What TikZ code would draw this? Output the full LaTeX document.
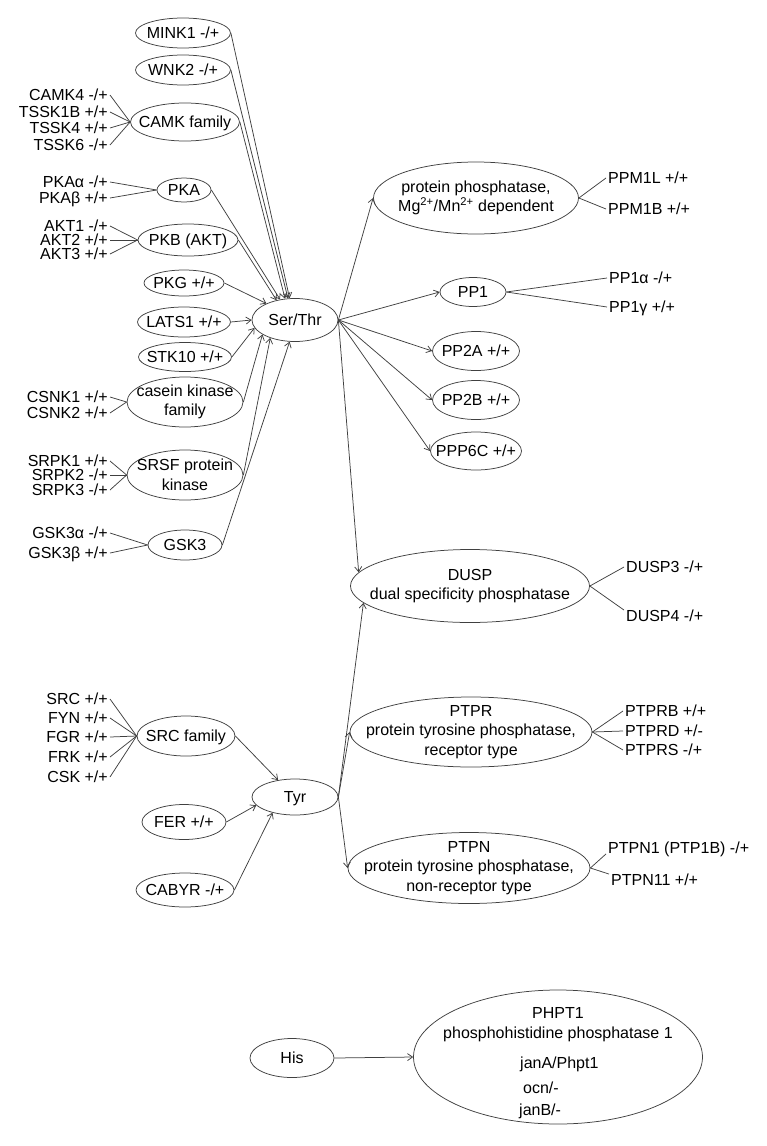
\documentclass[tikz,border=0pt]{standalone}
\usepackage{fontspec}
\setmainfont{Liberation Sans}
\usetikzlibrary{shapes.geometric,arrows.meta}
\begin{document}
\begin{tikzpicture}[x=1pt,y=-1pt,
  every node/.style={font=\fontsize{16}{19.5}\selectfont, text=black},
  ell/.style={draw=black!75, line width=0.75pt, ellipse, inner sep=-40pt, align=center},
  one/.style={text height=11.5pt, text depth=0pt},
  lbl/.style={inner ysep=0pt, inner xsep=2pt, text height=11.5pt, text depth=0pt},
  arr/.style={draw=black!75, line width=0.75pt, -{Straight Barb[length=5pt,width=7pt]}},
  ln/.style={draw=black!75, line width=0.75pt}]
\useasboundingbox (0,0) rectangle (766,1146);

% ---- kinases (Ser/Thr)
\node[ell,one,minimum width=95pt,minimum height=30pt] (mink) at (183,33) {MINK1 -/+};
\node[ell,one,minimum width=95pt,minimum height=30pt] (wnk) at (183,70) {WNK2 -/+};
\node[ell,one,minimum width=109pt,minimum height=38pt] (camk) at (185,122) {CAMK family};
\node[ell,one,minimum width=54pt,minimum height=24pt] (pka) at (184,190) {PKA};
\node[ell,one,minimum width=100pt,minimum height=32pt] (pkb) at (188,240) {PKB (AKT)};
\node[ell,one,minimum width=80pt,minimum height=26pt] (pkg) at (184,283) {PKG +/+};
\node[ell,one,minimum width=93pt,minimum height=30pt] (lats) at (184,322) {LATS1 +/+};
\node[ell,one,minimum width=93pt,minimum height=29pt] (stk) at (185,357) {STK10 +/+};
\node[ell,minimum width=116pt,minimum height=50pt] (csnk) at (185,402) {casein kinase\\family};
\node[ell,minimum width=116pt,minimum height=50pt] (srsf) at (185,475) {SRSF protein\\kinase};
\node[ell,one,minimum width=74pt,minimum height=30pt] (gsk) at (185,545) {GSK3};
\node[ell,one,minimum width=86pt,minimum height=43pt] (ser) at (295,320) {Ser/Thr};

% ---- left labels
\node[lbl,anchor=east] (camk4) at (110,95) {CAMK4 -/+};
\node[lbl,anchor=east] (tssk1b) at (110,112) {TSSK1B +/+};
\node[lbl,anchor=east] (tssk4) at (110,128) {TSSK4 +/+};
\node[lbl,anchor=east] (tssk6) at (110,145) {TSSK6 -/+};
\node[lbl,anchor=east] (pkaa) at (110,182) {PKAα -/+};
\node[lbl,anchor=east] (pkab) at (110,198) {PKAβ +/+};
\node[lbl,anchor=east] (akt1) at (110,226) {AKT1 -/+};
\node[lbl,anchor=east] (akt2) at (110,240) {AKT2 +/+};
\node[lbl,anchor=east] (akt3) at (110,254) {AKT3 +/+};
\node[lbl,anchor=east] (csnk1) at (110,397) {CSNK1 +/+};
\node[lbl,anchor=east] (csnk2) at (110,413) {CSNK2 +/+};
\node[lbl,anchor=east] (srpk1) at (110,461) {SRPK1 +/+};
\node[lbl,anchor=east] (srpk2) at (110,475) {SRPK2 -/+};
\node[lbl,anchor=east] (srpk3) at (110,490) {SRPK3 -/+};
\node[lbl,anchor=east] (gska) at (110,533) {GSK3α -/+};
\node[lbl,anchor=east] (gskb) at (110,553) {GSK3β +/+};

\foreach \s in {camk4,tssk1b,tssk4,tssk6} \draw[ln] (\s.east) -- (camk.west);
\foreach \s in {pkaa,pkab} \draw[ln] (\s.east) -- (pka.west);
\foreach \s in {akt1,akt2,akt3} \draw[ln] (\s.east) -- (pkb.west);
\foreach \s in {csnk1,csnk2} \draw[ln] (\s.east) -- (csnk.west);
\foreach \s in {srpk1,srpk2,srpk3} \draw[ln] (\s.east) -- (srsf.west);
\foreach \s in {gska,gskb} \draw[ln] (\s.east) -- (gsk.west);

% ---- arrows into Ser/Thr
\draw[arr] (mink.east) -- (ser.104);
\draw[arr] (wnk.east) -- (ser.108);
\draw[arr] (camk.east) -- (ser.115);
\draw[arr] (pka.east) -- (ser.126);
\draw[arr] (pkb.east) -- (ser.133);
\draw[arr] (pkg.east) -- (ser.150);
\draw[arr] (lats.east) -- (ser.west);
\draw[arr] (stk.east) -- (ser.191);
\draw[arr] (csnk.east) -- (ser.204);
\draw[arr] (srsf.east) -- (ser.216);
\draw[arr] (gsk.east) -- (ser.256);

% ---- Ser/Thr phosphatases
\node[ell,minimum width=205pt,minimum height=72pt] (ppm) at (476,198) {protein phosphatase,\\Mg\textsuperscript{2+}/Mn\textsuperscript{2+} dependent};
\node[ell,one,minimum width=66pt,minimum height=29pt] (pp1) at (473,292) {PP1};
\node[ell,one,minimum width=87pt,minimum height=39pt] (pp2a) at (476,351) {PP2A +/+};
\node[ell,one,minimum width=87pt,minimum height=39pt] (pp2b) at (476,400) {PP2B +/+};
\node[ell,one,minimum width=91pt,minimum height=38pt] (ppp6c) at (476,451) {PPP6C +/+};
\node[ell,minimum width=239pt,minimum height=73pt] (dusp) at (470,586) {DUSP\\dual specificity phosphatase};

\draw[arr] (ser.east) -- (ppm.west);
\draw[arr] (ser.east) -- (pp1.west);
\draw[arr] (ser.east) -- (pp2a.west);
\draw[arr] (ser.east) -- (pp2b.west);
\draw[arr] (ser.east) -- (ppp6c.west);
\draw[arr] (ser.east) -- (dusp.173);

% ---- right labels
\node[lbl,anchor=west] (ppm1l) at (606,178) {PPM1L +/+};
\node[lbl,anchor=west] (ppm1b) at (606,209) {PPM1B +/+};
\node[lbl,anchor=west] (pp1a) at (607,278) {PP1α -/+};
\node[lbl,anchor=west] (pp1g) at (607,307) {PP1γ +/+};
\node[lbl,anchor=west] (dusp3) at (624,567) {DUSP3 -/+};
\node[lbl,anchor=west] (dusp4) at (624,616) {DUSP4 -/+};
\draw[ln] (ppm.east) -- (ppm1l.west);
\draw[ln] (ppm.east) -- (ppm1b.west);
\draw[ln] (pp1.east) -- (pp1a.west);
\draw[ln] (pp1.east) -- (pp1g.west);
\draw[ln] (dusp.east) -- (dusp3.west);
\draw[ln] (dusp.east) -- (dusp4.north west);

% ---- Tyr
\node[ell,one,minimum width=98pt,minimum height=40pt] (src) at (186,736) {SRC family};
\node[ell,one,minimum width=84pt,minimum height=35pt] (fer) at (184,822) {FER +/+};
\node[ell,one,minimum width=98pt,minimum height=34pt] (cabyr) at (185,890) {CABYR -/+};
\node[ell,one,minimum width=86pt,minimum height=36pt] (tyr) at (295,797) {Tyr};

\node[lbl,anchor=east] (srck) at (110,699) {SRC +/+};
\node[lbl,anchor=east] (fyn) at (110,718) {FYN +/+};
\node[lbl,anchor=east] (fgr) at (110,737) {FGR +/+};
\node[lbl,anchor=east] (frk) at (110,757) {FRK +/+};
\node[lbl,anchor=east] (csk) at (110,777) {CSK +/+};
\foreach \s in {srck,fyn,fgr,frk,csk} \draw[ln] (\s.east) -- (src.west);

\draw[arr] (src.east) -- (tyr.135);
\draw[arr] (fer.east) -- (tyr.192);
\draw[arr] (cabyr.east) -- (tyr.215);

\node[ell,minimum width=242pt,minimum height=70pt] (ptpr) at (471,732) {PTPR\\protein tyrosine phosphatase,\\receptor type};
\node[ell,minimum width=242pt,minimum height=71pt] (ptpn) at (469,868) {PTPN\\protein tyrosine phosphatase,\\non-receptor type};

\draw[arr] (tyr.east) -- (dusp.189);
\draw[arr] (tyr.east) -- (ptpr.west);
\draw[arr] (tyr.east) -- (ptpn.west);

\node[lbl,anchor=west] (ptprb) at (623,711) {PTPRB +/+};
\node[lbl,anchor=west] (ptprd) at (623,731) {PTPRD +/-};
\node[lbl,anchor=west] (ptprs) at (623,750) {PTPRS -/+};
\node[lbl,anchor=west] (ptpn1) at (606,848) {PTPN1 (PTP1B) -/+};
\node[lbl,anchor=west] (ptpn11) at (609,880) {PTPN11 +/+};
\foreach \s in {ptprb,ptprd,ptprs} \draw[ln] (ptpr.east) -- (\s.west);
\draw[ln] (ptpn.east) -- (ptpn1.south west);
\draw[ln] (ptpn.east) -- (ptpn11.north west);

% ---- His
\node[ell,one,minimum width=84pt,minimum height=39pt] (his) at (292,1058) {His};
\node[ell,minimum width=289pt,minimum height=134pt] (phpt) at (558,1057) {};
\node[lbl] (phpt1) at (558,1013) {PHPT1};
\node[lbl] (phptd) at (558,1033) {phosphohistidine phosphatase 1};
\node[lbl,anchor=west,inner xsep=0pt] (jana) at (520,1063) {janA/Phpt1};
\node[lbl,anchor=west,inner xsep=0pt] (ocn) at (523,1088) {ocn/-};
\node[lbl,anchor=west,inner xsep=0pt] (janb) at (519,1110) {janB/-};
\draw[arr] (his.east) -- (phpt.west);
\end{tikzpicture}
\end{document}
